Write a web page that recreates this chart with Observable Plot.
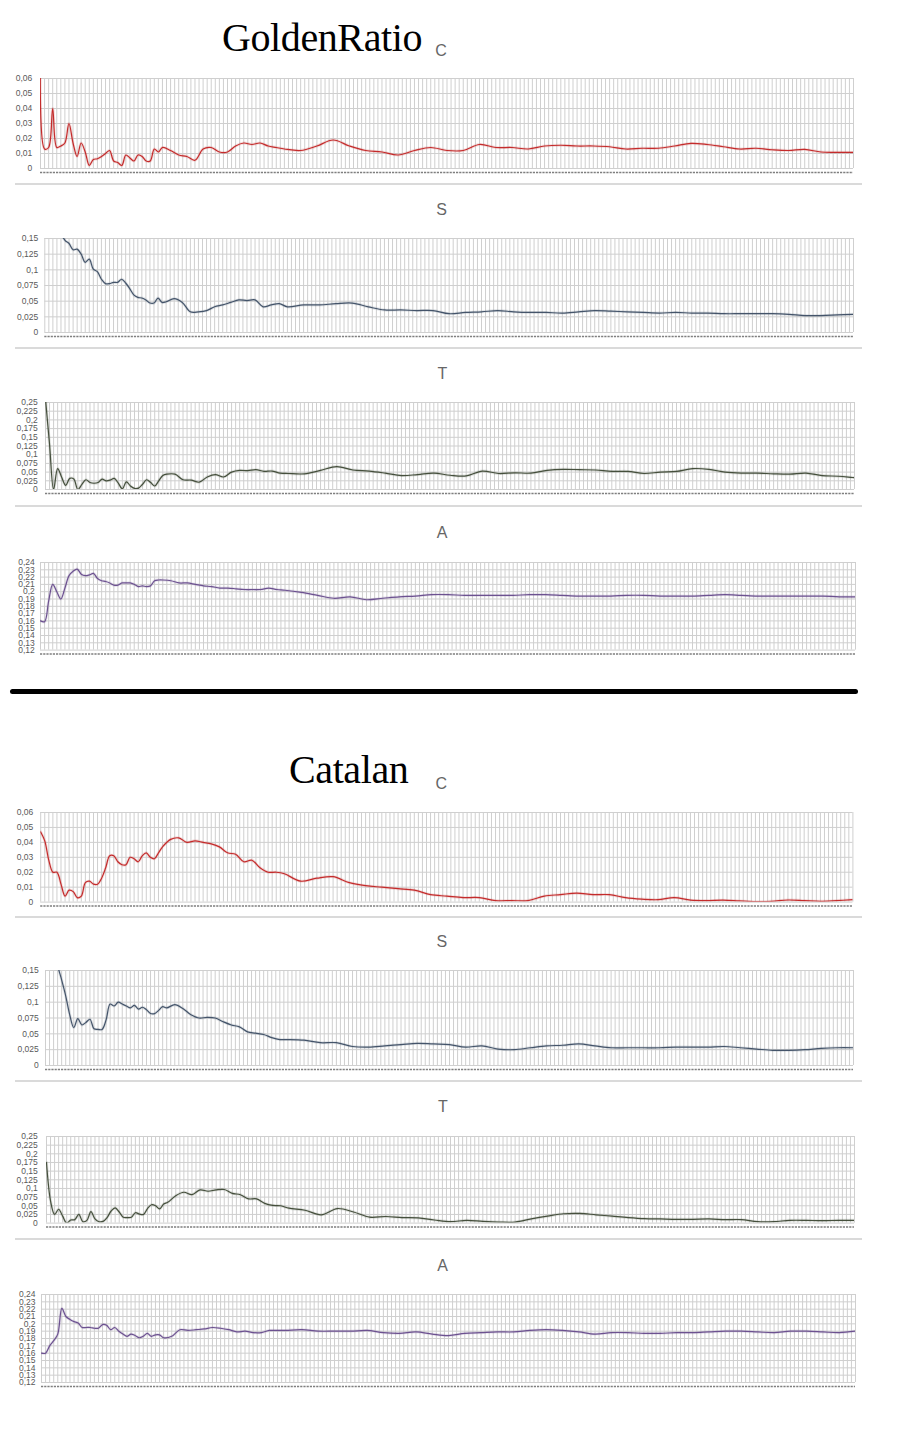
<!DOCTYPE html>
<html>
<head>
<meta charset="utf-8">
<script src="https://cdn.jsdelivr.net/npm/d3@7"></script>
<script src="https://cdn.jsdelivr.net/npm/@observablehq/plot@0.6"></script>
<style>
  html, body { margin: 0; padding: 0; background: #fff; }
  #page { position: relative; width: 902px; height: 1440px; overflow: hidden; background: #fff; }
  .abs { position: absolute; }
  .title { font-family: "Liberation Serif", "Times New Roman", serif; font-size: 40px; line-height: 40px; color: #000; letter-spacing: -0.4px; white-space: nowrap; }
  .plabel { font-family: "Liberation Sans", Arial, sans-serif; font-size: 16px; line-height: 16px; color: #666; transform: translateX(-50%); white-space: nowrap; }
  .sep { height: 2px; background: #dadada; }
  .thick { height: 5px; background: #000; border-radius: 3px; }
</style>
</head>
<body>
<div id="page"></div>
<script>
// ---- categories (sample positions along the category axis, 0..200) ----
const cats = [0,1,2,3,4,5,6,7,8,9,10,11,12,13,14,15,16,17,18,19,20,21,22,23,24,25,26,27,28,29,30,
  32,34,36,38,40,42,44,46,48,50,52,54,56,58,60,
  64,68,72,76,80,84,88,92,96,100,104,108,112,116,120,124,128,132,136,140,144,148,152,156,160,164,168,172,176,180,184,188,192,196,200];

// ---- GoldenRatio series ----
const grC = [0.085,0.013,0.014,0.040,0.014,0.015,0.017,0.030,0.017,0.008,0.017,0.011,0.002,0.006,0.0065,0.008,0.010,0.012,0.005,0.004,0.002,0.009,0.007,0.005,0.009,0.008,0.005,0.005,0.013,0.011,0.014,
  0.012,0.009,0.008,0.0055,0.013,0.014,0.011,0.011,0.015,0.017,0.016,0.017,0.015,0.014,0.013,
  0.012,0.015,0.019,0.015,0.012,0.011,0.009,0.012,0.014,0.012,
  0.012,0.016,0.014,0.014,0.013,0.015,0.0155,0.015,0.015,0.0145,0.013,0.0135,0.0135,0.015,0.0167,0.016,0.0145,0.013,0.0135,0.0125,0.012,0.0127,0.011,0.0108,0.0107];
const grS = [0.35,0.28,0.23,0.19,0.16,0.147,0.142,0.132,0.133,0.125,0.112,0.117,0.101,0.097,0.085,0.078,0.078,0.080,0.080,0.085,0.079,0.070,0.060,0.056,0.055,0.052,0.047,0.047,0.055,0.048,0.049,
  0.054,0.048,0.033,0.033,0.035,0.041,0.044,0.048,0.052,0.051,0.052,0.041,0.044,0.046,0.041,
  0.044,0.044,0.046,0.047,0.041,0.036,0.036,0.035,0.035,0.030,
  0.032,0.033,0.035,0.033,0.032,0.032,0.031,0.033,0.035,0.034,0.033,0.032,0.031,0.032,0.031,0.031,0.030,0.030,0.030,0.030,0.029,0.027,0.027,0.028,0.029];
const grT = [0.26,0.13,0.0,0.060,0.035,0.012,0.032,0.030,0.0,0.015,0.028,0.020,0.018,0.020,0.030,0.025,0.027,0.032,0.018,0.002,0.022,0.010,0.003,0.004,0.015,0.028,0.020,0.010,0.025,0.040,0.044,
  0.044,0.028,0.027,0.021,0.036,0.043,0.036,0.050,0.055,0.054,0.057,0.052,0.053,0.047,0.046,
  0.045,0.055,0.066,0.056,0.053,0.047,0.040,0.043,0.047,0.041,
  0.039,0.053,0.046,0.048,0.047,0.055,0.058,0.057,0.056,0.052,0.052,0.046,0.050,0.052,0.060,0.058,0.050,0.047,0.047,0.045,0.044,0.047,0.040,0.038,0.034];
const grA = [0.160,0.159,0.187,0.210,0.200,0.190,0.205,0.222,0.228,0.231,0.224,0.222,0.223,0.225,0.218,0.215,0.214,0.212,0.209,0.209,0.212,0.212,0.212,0.210,0.207,0.208,0.207,0.208,0.215,0.216,0.216,
  0.215,0.212,0.212,0.210,0.208,0.207,0.205,0.205,0.204,0.203,0.203,0.203,0.205,0.203,0.202,
  0.199,0.195,0.191,0.193,0.189,0.191,0.193,0.194,0.196,0.196,
  0.195,0.195,0.195,0.195,0.196,0.196,0.195,0.194,0.194,0.194,0.195,0.195,0.194,0.194,0.194,0.195,0.196,0.195,0.194,0.194,0.194,0.194,0.194,0.193,0.193];

// ---- Catalan series ----
const caC = [0.047,0.041,0.028,0.020,0.020,0.012,0.004,0.008,0.007,0.003,0.004,0.013,0.014,0.012,0.012,0.016,0.023,0.031,0.031,0.027,0.025,0.025,0.030,0.029,0.027,0.031,0.033,0.030,0.029,0.033,0.037,
  0.042,0.043,0.040,0.041,0.040,0.039,0.037,0.033,0.032,0.027,0.028,0.023,0.020,0.020,0.019,
  0.014,0.016,0.017,0.013,0.011,0.010,0.009,0.008,0.005,0.004,
  0.003,0.003,0.001,0.001,0.001,0.004,0.005,0.006,0.005,0.005,0.003,0.002,0.0016,0.003,0.0013,0.001,0.0013,0.0008,0.0003,0.0005,0.0014,0.001,0.0005,0.001,0.0016];
const caS = [0.30,0.24,0.19,0.158,0.135,0.110,0.080,0.060,0.074,0.064,0.068,0.073,0.058,0.057,0.057,0.072,0.097,0.094,0.100,0.097,0.094,0.091,0.095,0.089,0.092,0.088,0.082,0.082,0.087,0.093,0.091,
  0.096,0.090,0.080,0.075,0.076,0.075,0.069,0.064,0.061,0.053,0.051,0.049,0.044,0.041,0.041,
  0.040,0.036,0.036,0.030,0.029,0.031,0.033,0.035,0.034,0.033,
  0.029,0.031,0.026,0.025,0.028,0.031,0.032,0.034,0.031,0.028,0.028,0.028,0.028,0.029,0.029,0.029,0.030,0.028,0.026,0.024,0.024,0.025,0.027,0.028,0.028];
const caT = [0.175,0.064,0.025,0.040,0.020,0.0,0.009,0.010,0.025,0.004,0.008,0.033,0.012,0.004,0.005,0.016,0.035,0.044,0.032,0.017,0.016,0.017,0.030,0.026,0.025,0.042,0.053,0.050,0.041,0.055,0.060,
  0.079,0.089,0.082,0.096,0.092,0.096,0.097,0.086,0.082,0.070,0.070,0.057,0.051,0.050,0.043,
  0.037,0.024,0.042,0.032,0.017,0.019,0.016,0.015,0.009,0.004,
  0.008,0.005,0.003,0.003,0.012,0.020,0.027,0.028,0.024,0.020,0.016,0.013,0.012,0.011,0.011,0.012,0.010,0.010,0.004,0.004,0.008,0.008,0.007,0.008,0.008];
const caA = [0.160,0.160,0.170,0.177,0.186,0.221,0.210,0.206,0.203,0.201,0.195,0.195,0.195,0.194,0.194,0.199,0.198,0.192,0.195,0.190,0.186,0.183,0.186,0.184,0.181,0.183,0.187,0.183,0.185,0.185,0.181,
  0.183,0.192,0.191,0.192,0.193,0.195,0.194,0.192,0.189,0.190,0.188,0.188,0.191,0.191,0.191,
  0.192,0.190,0.190,0.190,0.191,0.188,0.187,0.189,0.186,0.184,
  0.187,0.188,0.189,0.189,0.191,0.192,0.191,0.189,0.186,0.188,0.188,0.187,0.187,0.188,0.188,0.189,0.190,0.190,0.189,0.188,0.190,0.190,0.189,0.188,0.190];

// ---- tick labels ----
const ticksC = [0, 0.01, 0.02, 0.03, 0.04, 0.05, 0.06];
const ticksS = [0, 0.025, 0.05, 0.075, 0.1, 0.125, 0.15];
const ticksT = [0, 0.025, 0.05, 0.075, 0.1, 0.125, 0.15, 0.175, 0.2, 0.225, 0.25];
const ticksA = [0.12, 0.13, 0.14, 0.15, 0.16, 0.17, 0.18, 0.19, 0.2, 0.21, 0.22, 0.23, 0.24];
const gridCats = d3.range(0, 201);

const colors = {C: "#c42b2b", S: "#44546a", T: "#454f3c", A: "#6c5190"};
const fmt = d => d === 0 ? "0" : String(d).replace(".", ",");

const page = document.getElementById("page");

function addDiv(cls, styles, text) {
  const d = document.createElement("div");
  d.className = "abs " + cls;
  Object.assign(d.style, styles);
  if (text != null) d.textContent = text;
  page.appendChild(d);
  return d;
}

function panel(values, key, yDomain, yTicks, box) {
  const rows = cats.map((c, i) => ({c, v: values[i]}));
  const mt = 6, mb = 10;
  const h = box.bottom - box.top;
  const color = colors[key];
  const H = Math.round(h + mt + mb);
  const chart = Plot.plot({
    width: 902,
    height: H,
    marginLeft: box.left,
    marginRight: 902 - box.right,
    marginTop: mt,
    marginBottom: H - mt - h,
    x: {domain: [0, 200], axis: null},
    y: {domain: yDomain, label: null},
    style: {fontFamily: "'Liberation Sans', Arial, sans-serif", fontSize: "8.5px", color: "#595959", background: "transparent", overflow: "visible"},
    marks: [
      Plot.gridX(gridCats, {stroke: "#cfcfcf", strokeOpacity: 1, strokeWidth: 1}),
      Plot.gridY(yTicks, {stroke: "#cfcfcf", strokeOpacity: 1, strokeWidth: 1}),
      Plot.axisY(yTicks, {label: null, tickSize: 0, tickPadding: box.pad, tickFormat: fmt, fill: "#595959", fontSize: 8.5}),
      Plot.ruleY([yDomain[0]], {dy: 4, stroke: "#7f7f7f", strokeWidth: 1.5, strokeDasharray: "2.2,1"}),
      Plot.line(rows, {x: "c", y: "v", stroke: color, strokeWidth: 3, strokeOpacity: 0.15, curve: "catmull-rom", clip: true}),
      Plot.line(rows, {x: "c", y: "v", stroke: color, strokeWidth: 1.2, curve: "catmull-rom", clip: true})
    ]
  });
  const wrap = addDiv("", {left: "0px", top: (box.top - mt) + "px"});
  wrap.appendChild(chart);
}

// ---- Group 1: GoldenRatio ----
addDiv("title", {left: "222px", top: "18.2px"}, "GoldenRatio");
addDiv("plabel", {left: "441px", top: "42.5px"}, "C");
panel(grC, "C", [0, 0.06], ticksC, {left: 40, right: 853, top: 78.3, bottom: 168.3, pad: 8.3});
addDiv("sep", {left: "15px", top: "183px", width: "847px"});
addDiv("plabel", {left: "441.5px", top: "201.5px"}, "S");
panel(grS, "S", [0, 0.15], ticksS, {left: 44.3, right: 853, top: 237.7, bottom: 331.7, pad: 6.6});
addDiv("sep", {left: "15px", top: "347px", width: "847px"});
addDiv("plabel", {left: "442.5px", top: "365.5px"}, "T");
panel(grT, "T", [0, 0.25], ticksT, {left: 45, right: 854, top: 402.3, bottom: 489.3, pad: 7.7});
addDiv("sep", {left: "15px", top: "505px", width: "847px"});
addDiv("plabel", {left: "442px", top: "524.5px"}, "A");
panel(grA, "A", [0.12, 0.24], ticksA, {left: 40, right: 855, top: 561.7, bottom: 649.3, pad: 5.7});

addDiv("thick", {left: "10px", top: "688.5px", width: "848px"});

// ---- Group 2: Catalan ----
addDiv("title", {left: "289px", top: "749.5px"}, "Catalan");
addDiv("plabel", {left: "441.4px", top: "775.5px"}, "C");
panel(caC, "C", [0, 0.06], ticksC, {left: 40.2, right: 852.4, top: 811.7, bottom: 901.3, pad: 7.5});
addDiv("sep", {left: "15px", top: "916px", width: "847px"});
addDiv("plabel", {left: "441.8px", top: "934.2px"}, "S");
panel(caS, "S", [0, 0.15], ticksS, {left: 45, right: 853, top: 970, bottom: 1065, pad: 6.7});
addDiv("sep", {left: "15px", top: "1080px", width: "847px"});
addDiv("plabel", {left: "443px", top: "1099.2px"}, "T");
panel(caT, "T", [0, 0.25], ticksT, {left: 46, right: 854, top: 1135.7, bottom: 1222.3, pad: 8.7});
addDiv("sep", {left: "15px", top: "1238px", width: "847px"});
addDiv("plabel", {left: "442.5px", top: "1258.2px"}, "A");
panel(caA, "A", [0.12, 0.24], ticksA, {left: 41, right: 855, top: 1294.3, bottom: 1382.3, pad: 6});
</script>
</body>
</html>
